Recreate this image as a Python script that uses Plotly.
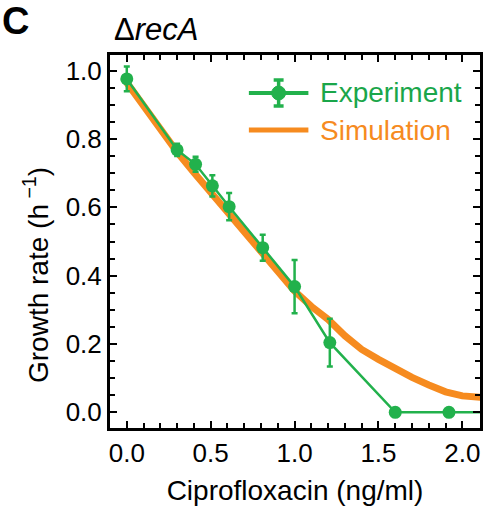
import plotly.graph_objects as go

# Experiment data
exp_x = [0.0, 0.3, 0.41, 0.51, 0.61, 0.81, 1.0, 1.21, 1.6, 1.92, 2.3]
exp_y = [0.976, 0.768, 0.726, 0.663, 0.602, 0.482, 0.368, 0.204, 0.0, 0.0, 0.0]
exp_err = [0.036, 0.018, 0.022, 0.031, 0.04, 0.038, 0.078, 0.07, 0.0, 0.0, 0.0]

# Simulation data
sim_x = [0.0, 0.1, 0.2, 0.3, 0.4, 0.5, 0.6, 0.7, 0.8, 0.9, 1.0, 1.1, 1.2, 1.3,
         1.4, 1.5, 1.6, 1.7, 1.8, 1.9, 2.0, 2.1, 2.2]
sim_y = [0.965, 0.897, 0.83, 0.762, 0.702, 0.645, 0.585, 0.525, 0.468, 0.41,
         0.355, 0.31, 0.272, 0.224, 0.184, 0.155, 0.128, 0.102, 0.08, 0.06,
         0.048, 0.042, 0.04]

x_ticks = [0.0, 0.5, 1.0, 1.5, 2.0]
y_ticks = [0.0, 0.2, 0.4, 0.6, 0.8, 1.0]

GREEN = "#22B14C"
GREEN_TXT = "#1AA64A"
ORANGE = "#F68B1F"
FONT = "Liberation Sans, Arial, sans-serif"

fig = go.Figure()
fig.add_trace(go.Scatter(
    x=sim_x, y=sim_y, mode="lines",
    line=dict(color=ORANGE, width=7),
    name="Simulation", showlegend=False,
))
fig.add_trace(go.Scatter(
    x=exp_x, y=exp_y, mode="lines+markers",
    line=dict(color=GREEN, width=2.5),
    marker=dict(color=GREEN, size=13),
    error_y=dict(type="data", array=exp_err, color=GREEN, thickness=2.5, width=3),
    name="Experiment", showlegend=False,
))

axis_common = dict(
    showline=True, linecolor="black", linewidth=3, mirror="ticks",
    ticks="inside", ticklen=7, tickwidth=2, tickcolor="black",
    showgrid=False, zeroline=False,
    tickfont=dict(family=FONT, size=26, color="black"),
)

fig.update_xaxes(
    range=[-0.1, 2.105], tickvals=x_ticks, ticktext=[f"{v:.1f}" for v in x_ticks],
    minor=dict(dtick=0.1, ticks="inside", ticklen=5, tickwidth=2, tickcolor="black"),
    title=dict(text="Ciprofloxacin (ng/ml)", font=dict(family=FONT, size=28, color="black"), standoff=14),
    **axis_common,
)
fig.update_yaxes(
    range=[-0.046, 1.046], tickvals=y_ticks, ticktext=[f"{v:.1f}" for v in y_ticks],
    minor=dict(dtick=0.05, ticks="inside", ticklen=5, tickwidth=2, tickcolor="black"),
    **axis_common,
)

# Custom legend (paper coordinates of the plot area)
def px2x(px):
    return (px - 110) / 373.0

def py2y(py):
    return (428 - py) / 373.0

shapes = [
    dict(type="line", xref="paper", yref="paper", x0=px2x(250), x1=px2x(310),
         y0=py2y(93), y1=py2y(93), line=dict(color=GREEN, width=4)),
    dict(type="line", xref="paper", yref="paper", x0=px2x(280), x1=px2x(280),
         y0=py2y(80), y1=py2y(106), line=dict(color=GREEN, width=3.5)),
    dict(type="line", xref="paper", yref="paper", x0=px2x(275), x1=px2x(285),
         y0=py2y(80), y1=py2y(80), line=dict(color=GREEN, width=3.5)),
    dict(type="line", xref="paper", yref="paper", x0=px2x(275), x1=px2x(285),
         y0=py2y(106), y1=py2y(106), line=dict(color=GREEN, width=3.5)),
    dict(type="circle", xref="paper", yref="paper", x0=px2x(273), x1=px2x(287),
         y0=py2y(100), y1=py2y(86), fillcolor=GREEN, line=dict(color=GREEN, width=1)),
    dict(type="line", xref="paper", yref="paper", x0=px2x(250), x1=px2x(310),
         y0=py2y(130), y1=py2y(130), line=dict(color=ORANGE, width=5)),
]

fig.update_layout(
    width=490, height=512,
    margin=dict(l=110, r=7, t=55, b=84),
    plot_bgcolor="white", paper_bgcolor="white",
    showlegend=False,
    shapes=shapes,
    annotations=[
        dict(text="<b>C</b>", xref="paper", yref="paper", x=-0.298, y=1.152,
             xanchor="left", yanchor="top", showarrow=False,
             font=dict(family=FONT, size=38, color="black")),
        dict(text="Δ<i>recA</i>", xref="paper", yref="paper", x=0.005, y=1.12,
             xanchor="left", yanchor="top", showarrow=False,
             font=dict(family=FONT, size=31, color="black")),
        dict(text="Growth rate (h<sup> −1</sup>)", xref="paper", yref="paper",
             x=-0.2, y=py2y(275), xanchor="center", yanchor="middle",
             textangle=-90, showarrow=False,
             font=dict(family=FONT, size=28, color="black")),
        dict(text="Experiment", xref="paper", yref="paper",
             x=px2x(320), y=py2y(93), xanchor="left", yanchor="middle",
             showarrow=False, font=dict(family=FONT, size=28, color=GREEN_TXT)),
        dict(text="Simulation", xref="paper", yref="paper",
             x=px2x(320), y=py2y(130), xanchor="left", yanchor="middle",
             showarrow=False, font=dict(family=FONT, size=28, color=ORANGE)),
    ],
)

fig.write_html("out.html")
